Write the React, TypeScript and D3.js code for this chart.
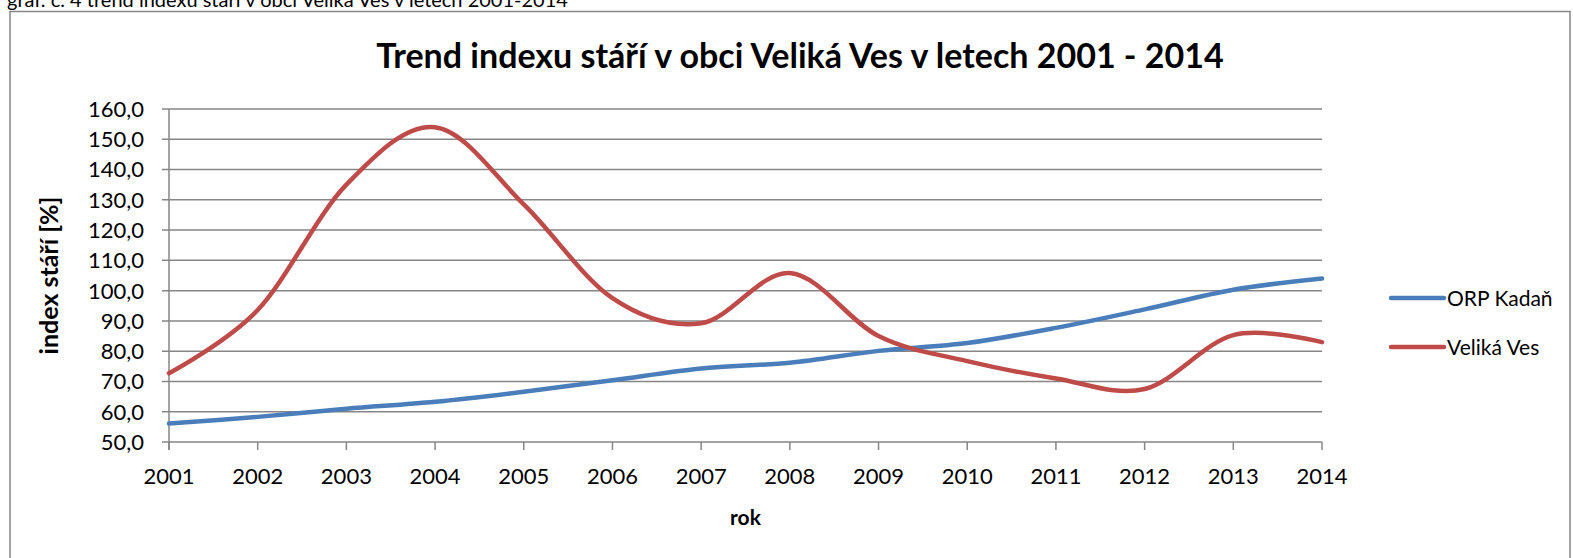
import React, { useEffect, useRef } from 'react';
import * as d3 from 'd3';

// data
const years = [2001, 2002, 2003, 2004, 2005, 2006, 2007, 2008, 2009, 2010, 2011, 2012, 2013, 2014];
const orpKadan = [56.1, 58.3, 61.0, 63.3, 66.6, 70.4, 74.3, 76.2, 80.1, 82.7, 87.7, 93.8, 100.3, 104.0];
const velikaVes = [72.7, 93.6, 135.0, 154.0, 128.5, 97.5, 89.2, 105.8, 85.0, 76.7, 71.0, 67.5, 85.3, 83.0];
const seriesNames = ['ORP Kadaň', 'Veliká Ves'];
const seriesColors = ['#4A7EBB', '#BE4B48'];
const yTicks = [50, 60, 70, 80, 90, 100, 110, 120, 130, 140, 150, 160];

const W = 1573;
const H = 558;
const FONT = 'Lato, "Open Sans", sans-serif';

const App: React.FC = () => {
  const ref = useRef<SVGSVGElement>(null);

  useEffect(() => {
    if (!ref.current) return;
    const svg = d3.select(ref.current);
    svg.selectAll('*').remove();

    const x = d3.scaleLinear().domain([years[0], years[years.length - 1]]).range([169, 1322]);
    const y = d3.scaleLinear().domain([50, 160]).range([442, 109]);
    const fmt = (v: number) => v.toFixed(1).replace('.', ',');

    // caption above the chart box, cut off at the top like in the source
    svg.append('text')
      .attr('x', 7).attr('y', 7)
      .attr('font-family', FONT).attr('font-size', 20)
      .attr('fill', '#000')
      .text('graf. č. 4 trend indexu stáří v obci Veliká Ves v letech 2001-2014');

    // chart frame
    svg.append('rect')
      .attr('x', 10).attr('y', 11.5)
      .attr('width', 1560).attr('height', 560)
      .attr('fill', '#fff')
      .attr('stroke', '#868686').attr('stroke-width', 1.5);

    svg.append('text')
      .attr('x', 800).attr('y', 68)
      .attr('text-anchor', 'middle')
      .attr('font-family', FONT).attr('font-size', 34).attr('font-weight', 'bold')
      .text('Trend indexu stáří v obci Veliká Ves v letech 2001 - 2014');

    // gridlines
    const g = svg.append('g');
    g.selectAll('.grid')
      .data(yTicks)
      .enter().append('line')
      .attr('x1', 162).attr('x2', x.range()[1])
      .attr('y1', d => y(d)).attr('y2', d => y(d))
      .attr('stroke', '#868686').attr('stroke-width', 1.5);

    // y axis line
    g.append('line')
      .attr('x1', 169).attr('x2', 169)
      .attr('y1', y(160)).attr('y2', y(50) + 8)
      .attr('stroke', '#868686').attr('stroke-width', 1.5);

    // x ticks
    g.selectAll('.xtick')
      .data(years)
      .enter().append('line')
      .attr('x1', d => x(d)).attr('x2', d => x(d))
      .attr('y1', y(50)).attr('y2', y(50) + 8)
      .attr('stroke', '#868686').attr('stroke-width', 1.5);

    g.selectAll('.ylab')
      .data(yTicks)
      .enter().append('text')
      .attr('x', 144).attr('y', d => y(d))
      .attr('dy', '0.36em')
      .attr('text-anchor', 'end')
      .attr('font-family', FONT).attr('font-size', 22)
      .text(d => fmt(d));

    g.selectAll('.xlab')
      .data(years)
      .enter().append('text')
      .attr('x', d => x(d)).attr('y', 484)
      .attr('text-anchor', 'middle')
      .attr('font-family', FONT).attr('font-size', 22)
      .text(d => String(d));

    g.append('text')
      .attr('x', (x.range()[0] + x.range()[1]) / 2).attr('y', 525)
      .attr('text-anchor', 'middle')
      .attr('font-family', FONT).attr('font-size', 21).attr('font-weight', 'bold')
      .text('rok');

    g.append('text')
      .attr('transform', `translate(58,${(y(50) + y(160)) / 2}) rotate(-90)`)
      .attr('text-anchor', 'middle')
      .attr('font-family', FONT).attr('font-size', 25).attr('font-weight', 'bold')
      .text('index stáří [%]');

    // smoothed lines
    const line = d3.line<number>()
      .x((_, i) => x(years[i]))
      .y(d => y(d))
      .curve(d3.curveCardinal.tension(0));

    [orpKadan, velikaVes].forEach((s, i) => {
      g.append('path')
        .attr('d', line(s))
        .attr('fill', 'none')
        .attr('stroke', seriesColors[i])
        .attr('stroke-width', 4.5)
        .attr('stroke-linecap', 'round');
    });

    // legend
    const legendY = [298, 347];
    seriesNames.forEach((name, i) => {
      g.append('line')
        .attr('x1', 1391).attr('x2', 1444)
        .attr('y1', legendY[i]).attr('y2', legendY[i])
        .attr('stroke', seriesColors[i]).attr('stroke-width', 4.5)
        .attr('stroke-linecap', 'round');
      g.append('text')
        .attr('x', 1447).attr('y', legendY[i])
        .attr('dy', '0.36em')
        .attr('font-family', FONT).attr('font-size', 21)
        .text(name);
    });
  }, []);

  return (
    <svg
      ref={ref}
      width={W}
      height={H}
      style={{ position: 'absolute', left: 0, top: 0, background: '#fff' }}
    />
  );
};

export default App;
